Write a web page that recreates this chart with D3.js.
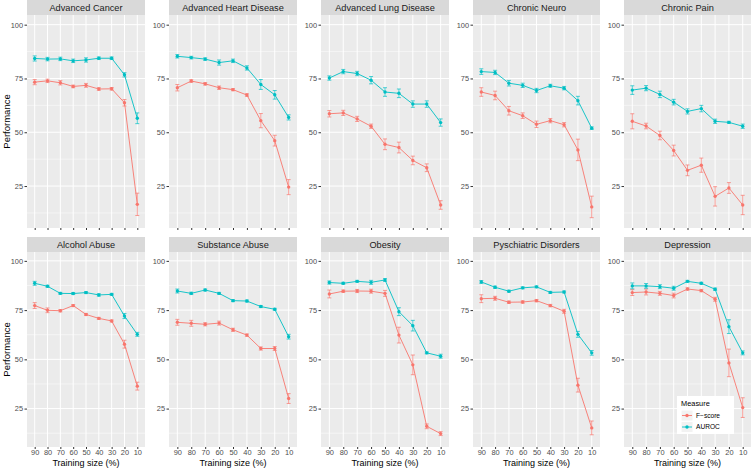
<!DOCTYPE html>
<html><head><meta charset="utf-8">
<script src="https://cdn.jsdelivr.net/npm/d3@7"></script>
<style>body{margin:0;background:#fff}svg{display:block;font-family:"Liberation Sans",Arial,sans-serif}</style>
</head><body><svg id="c" width="752" height="468"></svg>
<script>
const sizes = ["90","80","70","60","50","40","30","20","10"];
const diseases = ["Advanced Cancer","Advanced Heart Disease","Advanced Lung Disease","Chronic Neuro","Chronic Pain",
  "Alcohol Abuse","Substance Abuse","Obesity","Pyschiatric Disorders","Depression"];
const measures = ["F\u2212score","AUROC"];
const yTicks = [25,50,75,100];
const fscore = [
  [73.3,73.9,73.0,71.3,71.8,70.1,70.2,63.7,16.5],
  [70.7,73.8,72.5,70.7,69.8,67.3,55.4,46.1,24.5],
  [58.6,59.0,56.2,52.8,44.4,42.9,36.9,33.5,16.2],
  [68.7,67.1,60.0,57.7,53.7,55.4,53.5,41.8,15.3],
  [55.1,52.9,48.5,41.5,32.3,34.7,20.2,24.1,16.2],
  [77.3,74.9,74.7,77.3,72.8,70.8,69.5,57.7,36.4],
  [68.8,68.3,67.8,68.4,65.0,62.3,55.5,55.5,30.1],
  [83.2,84.6,84.7,84.6,83.5,62.3,47.2,16.0,12.3],
  [80.8,81.0,79.0,79.1,79.8,77.3,74.4,36.9,15.2],
  [83.9,84.2,83.5,82.4,85.7,84.9,80.5,48.2,25.5]
];
const fscoreErr = [
  [1.2,0.8,1.0,0.6,0.9,0.6,0.6,1.5,5.2],
  [1.5,0.6,0.6,0.8,0.5,0.6,3.3,2.5,3.5],
  [1.5,1.2,1.2,1.0,2.5,2.5,2.0,1.8,2.0],
  [2.0,2.0,2.0,1.3,1.5,1.0,1.0,5.0,5.0],
  [3.5,1.3,2.0,2.5,2.5,3.3,4.5,2.5,4.5],
  [1.5,1.2,0.6,0.5,0.5,0.5,0.5,2.0,2.0],
  [1.5,1.5,0.8,1.0,0.8,0.6,0.8,1.0,2.5],
  [2.0,0.6,0.8,1.0,1.5,4.0,5.0,1.2,1.0],
  [2.0,1.0,0.6,0.6,0.6,0.6,1.0,3.5,3.5],
  [1.5,1.5,1.0,1.2,0.6,0.6,1.0,7.0,5.0]
];
const auroc = [
  [84.3,84.0,84.1,83.2,83.6,84.4,84.4,76.7,56.5],
  [85.3,84.7,84.0,82.4,83.2,79.9,72.2,67.4,56.9],
  [75.2,78.2,77.3,74.2,68.7,68.1,63.1,63.1,54.5],
  [78.2,77.8,72.8,71.8,69.4,71.6,70.5,64.7,51.9],
  [69.6,70.5,67.6,64.0,59.7,61.0,55.1,54.6,52.8],
  [88.6,87.1,83.5,83.4,83.9,82.7,83.0,72.0,62.7],
  [84.7,83.5,85.2,83.5,79.8,79.6,76.8,75.4,61.5],
  [89.0,88.6,89.6,89.1,90.3,74.2,67.1,53.3,51.6],
  [89.3,86.6,84.6,86.3,86.8,84.0,84.2,62.7,53.3],
  [87.3,87.3,86.9,86.1,89.6,88.6,85.6,66.6,53.3]
];
const aurocErr = [
  [1.2,0.8,0.8,0.8,1.0,0.6,0.6,1.0,2.5],
  [0.8,0.6,0.6,1.2,0.8,1.0,2.3,2.0,1.2],
  [1.0,1.0,1.0,1.7,2.0,2.0,1.5,1.5,1.7],
  [1.3,1.0,1.3,1.0,1.0,0.7,0.8,2.0,0.6],
  [2.0,1.2,1.5,1.3,1.2,1.5,1.0,0.5,1.0],
  [1.0,0.5,0.5,0.5,0.5,0.6,0.5,1.3,1.0],
  [1.0,0.6,0.5,0.5,0.5,0.5,0.5,0.5,1.2],
  [0.8,0.5,0.5,1.0,0.7,2.0,2.7,0.5,1.0],
  [0.7,0.6,0.5,0.5,0.5,0.5,0.5,1.5,1.2],
  [1.5,1.2,1.0,1.0,0.5,0.5,0.6,3.5,1.0]
];

const colors = {"F\u2212score":"#F8766D","AUROC":"#00BFC4"};
const cols = [[27,145],[169,297],[321,449],[473,600],[624,751]];
const rows = [{strip:[0,15],panel:[15,228],labels:false},{strip:[237,252],panel:[252,447],labels:true}];
const yDomain = [5.5,104.5];

const svg = d3.select("#c");

diseases.forEach((name, i) => {
  const col = cols[i % 5], row = rows[Math.floor(i / 5)];
  const x = d3.scalePoint().domain(sizes).range(col).padding(0.6);
  const y = d3.scaleLinear().domain(yDomain).range([row.panel[1], row.panel[0]]);
  const g = svg.append("g");
  // strip
  g.append("rect").attr("x", col[0]).attr("y", row.strip[0]).attr("width", col[1]-col[0])
    .attr("height", row.strip[1]-row.strip[0]).attr("fill", "#D9D9D9");
  g.append("text").attr("x", (col[0]+col[1])/2).attr("y", (row.strip[0]+row.strip[1])/2)
    .attr("dy", "0.35em").attr("text-anchor", "middle").attr("font-size", 9.2).attr("fill", "#1A1A1A").text(name);
  // panel
  g.append("rect").attr("x", col[0]).attr("y", row.panel[0]).attr("width", col[1]-col[0])
    .attr("height", row.panel[1]-row.panel[0]).attr("fill", "#EBEBEB");
  const minor = [12.5,37.5,62.5,87.5];
  g.selectAll(".mn").data(minor).join("line").attr("x1", col[0]).attr("x2", col[1])
    .attr("y1", d => y(d)).attr("y2", d => y(d)).attr("stroke", "#fff").attr("stroke-width", 0.5);
  g.selectAll(".mj").data(yTicks).join("line").attr("x1", col[0]).attr("x2", col[1])
    .attr("y1", d => y(d)).attr("y2", d => y(d)).attr("stroke", "#fff").attr("stroke-width", 1);
  g.selectAll(".vx").data(sizes).join("line").attr("x1", d => x(d)).attr("x2", d => x(d))
    .attr("y1", row.panel[0]).attr("y2", row.panel[1]).attr("stroke", "#fff").attr("stroke-width", 1);
  // y axis
  const ya = g.append("g").attr("transform", `translate(${col[0]},0)`)
    .call(d3.axisLeft(y).tickValues(yTicks).tickSize(2.5).tickPadding(1.5));
  ya.select(".domain").remove();
  ya.selectAll(".tick line").attr("stroke", "#333333");
  ya.selectAll(".tick text").attr("fill", "#4D4D4D").attr("font-size", 7.4).attr("font-family", "Liberation Sans, Arial, sans-serif");
  // x axis
  const xa = g.append("g").attr("transform", `translate(0,${row.panel[1]})`)
    .call(d3.axisBottom(x).tickSize(2).tickPadding(0.8));
  xa.select(".domain").remove();
  xa.selectAll(".tick line").attr("stroke", "#333333");
  if (row.labels) {
    xa.selectAll(".tick text").attr("fill", "#4D4D4D").attr("font-size", 7.4).attr("font-family", "Liberation Sans, Arial, sans-serif");
  } else {
    xa.selectAll(".tick text").remove();
  }
  // series
  const series = [
    {m: measures[0], v: fscore[i], e: fscoreErr[i]},
    {m: measures[1], v: auroc[i], e: aurocErr[i]}
  ];
  series.forEach(s => {
    const pts = sizes.map((k, j) => ({k, v: s.v[j], e: s.e[j]}));
    const c = colors[s.m];
    const eg = g.append("g");
    eg.selectAll("line.v").data(pts).join("line").attr("x1", d => x(d.k)).attr("x2", d => x(d.k))
      .attr("y1", d => y(d.v - d.e)).attr("y2", d => y(d.v + d.e)).attr("stroke", c).attr("stroke-width", 0.7);
    eg.selectAll("line.t").data(pts).join("line").attr("x1", d => x(d.k)-2).attr("x2", d => x(d.k)+2)
      .attr("y1", d => y(d.v + d.e)).attr("y2", d => y(d.v + d.e)).attr("stroke", c).attr("stroke-width", 0.7);
    eg.selectAll("line.b").data(pts).join("line").attr("x1", d => x(d.k)-2).attr("x2", d => x(d.k)+2)
      .attr("y1", d => y(d.v - d.e)).attr("y2", d => y(d.v - d.e)).attr("stroke", c).attr("stroke-width", 0.7);
    g.append("path").datum(pts).attr("fill", "none").attr("stroke", c).attr("stroke-width", 0.9)
      .attr("d", d3.line().x(d => x(d.k)).y(d => y(d.v)));
    g.append("g").selectAll("circle").data(pts).join("circle").attr("cx", d => x(d.k)).attr("cy", d => y(d.v))
      .attr("r", 1.7).attr("fill", c);
  });
  // x title for bottom row
  if (row.labels) {
    g.append("text").attr("x", (col[0]+col[1])/2).attr("y", 466).attr("font-size", 9)
      .attr("text-anchor", "middle").attr("fill", "#000").text("Training size (%)");
  }
});

// y titles
rows.forEach(row => {
  const cy = (row.panel[0]+row.panel[1])/2;
  svg.append("text").attr("transform", `translate(7,${cy}) rotate(-90)`).attr("dy", "0.35em")
    .attr("text-anchor", "middle").attr("font-size", 9.5).attr("fill", "#000").text("Performance");
});

// legend
const lg = svg.append("g").attr("transform", "translate(677,396)");
lg.append("rect").attr("width", 57).attr("height", 38).attr("fill", "#fff");
lg.append("text").attr("x", 4).attr("y", 7.5).attr("dy", "0.35em").attr("font-size", 7.4).attr("fill", "#000").text("Measure");
measures.forEach((m, j) => {
  const ky = 14 + j * 11.5;
  lg.append("rect").attr("x", 4).attr("y", ky).attr("width", 12).attr("height", 11).attr("fill", "#F2F2F2").attr("stroke", "#fff");
  lg.append("line").attr("x1", 5).attr("x2", 15).attr("y1", ky+5.5).attr("y2", ky+5.5).attr("stroke", colors[m]).attr("stroke-width", 0.9);
  lg.append("circle").attr("cx", 10).attr("cy", ky+5.5).attr("r", 1.7).attr("fill", colors[m]);
  lg.append("text").attr("x", 19).attr("y", ky+5.5).attr("dy", "0.35em").attr("font-size", 6.6).attr("fill", "#000").text(m);
});
</script></body></html>
